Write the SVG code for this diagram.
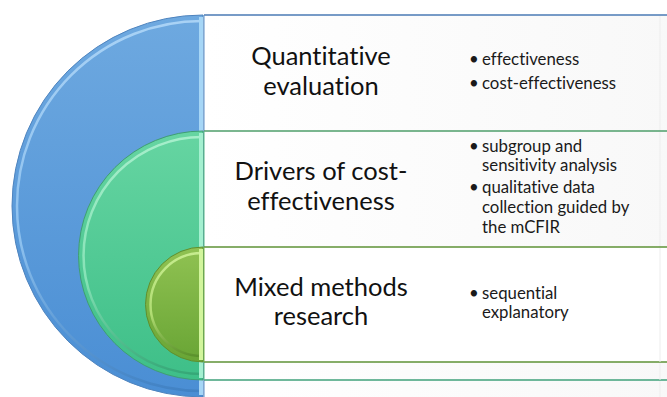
<svg xmlns="http://www.w3.org/2000/svg" width="667" height="397" viewBox="0 0 667 397">
<defs>
<linearGradient id="gBlue" x1="0" y1="0" x2="0" y2="1"><stop offset="0" stop-color="#6EA9E0"/><stop offset="1" stop-color="#4A8ED4"/></linearGradient>
<linearGradient id="gGreen" x1="0" y1="0" x2="0" y2="1"><stop offset="0" stop-color="#66D5A2"/><stop offset="1" stop-color="#3EBF88"/></linearGradient>
<linearGradient id="gLime" x1="0" y1="0" x2="0" y2="1"><stop offset="0" stop-color="#90C252"/><stop offset="1" stop-color="#69A535"/></linearGradient>
<linearGradient id="gRect" x1="0" y1="0" x2="1" y2="0"><stop offset="0" stop-color="#FFFFFF"/><stop offset="1" stop-color="#F8F8F8"/></linearGradient>
<linearGradient id="hlBlue" x1="0" y1="0" x2="0" y2="1"><stop offset="0" stop-color="#A9D2F5"/><stop offset="0.6" stop-color="#8CC0EE"/><stop offset="1" stop-color="#4182C4"/></linearGradient>
<linearGradient id="hlGreen" x1="0" y1="0" x2="0" y2="1"><stop offset="0" stop-color="#A6EECB"/><stop offset="0.6" stop-color="#86E2B6"/><stop offset="1" stop-color="#36A878"/></linearGradient>
<linearGradient id="hlLime" x1="0" y1="0" x2="0" y2="1"><stop offset="0" stop-color="#C6EC8E"/><stop offset="0.6" stop-color="#B0DC72"/><stop offset="1" stop-color="#5B922C"/></linearGradient>
</defs>
<style>
.title{font-family:Lato,"Liberation Sans",sans-serif;font-size:25.5px;fill:#111;text-anchor:middle;font-variant-ligatures:none;font-feature-settings:"liga" 0,"dlig" 0}
.bul{font-family:Lato,"Liberation Sans",sans-serif;font-size:16.8px;fill:#1a1a1a;font-variant-ligatures:none;font-feature-settings:"liga" 0,"dlig" 0}
.rect{fill:url(#gRect)}
.hl{fill:none;stroke-width:2.5}
</style>

<g id="node-quantitative">
<path d="M203,15 A191,191 0 0 0 203,397 Z" fill="url(#gBlue)" stroke="#4F84BE" stroke-width="1"/>
<path d="M202,21 A185,185 0 0 0 202,391" class="hl" stroke="url(#hlBlue)"/>
<rect x="199" y="17" width="4" height="378" fill="#A6D6F6"/>
<rect x="204" y="15" width="470" height="390" class="rect"/>
<line x1="204" y1="15" x2="667" y2="15" stroke="#4A7AB5" stroke-width="1.5"/>
<line x1="204" y1="15" x2="204" y2="397" stroke="#5C8FC6" stroke-width="1"/>
<line x1="660" y1="16" x2="660" y2="397" stroke="#EDEDED" stroke-width="1"/>
<text class="title" x="321" y="65">Quantitative</text>
<text class="title" x="321" y="95">evaluation</text>
<text class="bul" x="469" y="65">•</text><text class="bul" x="482" y="65">effectiveness</text>
<text class="bul" x="469" y="89">•</text><text class="bul" x="482" y="89">cost-effectiveness</text>
</g>

<g id="node-drivers">
<path d="M203,131 A124.5,124.5 0 0 0 203,380 Z" fill="url(#gGreen)" stroke="#3F9E72" stroke-width="1"/>
<path d="M202,137 A118.5,118.5 0 0 0 202,374" class="hl" stroke="url(#hlGreen)"/>
<rect x="199" y="133" width="4" height="245" fill="#A4F0D0"/>
<rect x="204" y="131" width="470" height="249" class="rect"/>
<line x1="204" y1="131" x2="667" y2="131" stroke="#4E9E6A" stroke-width="1.5"/>
<line x1="204" y1="380" x2="667" y2="380" stroke="#3FA07A" stroke-width="1.5"/>
<line x1="204" y1="131" x2="204" y2="380" stroke="#55B585" stroke-width="1"/>
<line x1="660" y1="132" x2="660" y2="380" stroke="#EDEDED" stroke-width="1"/>
<text class="title" x="321" y="180">Drivers of cost-</text>
<text class="title" x="321" y="210">effectiveness</text>
<text class="bul" x="469" y="152">•</text><text class="bul" x="482" y="152">subgroup and</text>
<text class="bul" x="482" y="171">sensitivity analysis</text>
<text class="bul" x="469" y="193">•</text><text class="bul" x="482" y="193">qualitative data</text>
<text class="bul" x="482" y="213">collection guided by</text>
<text class="bul" x="482" y="233">the mCFIR</text>
</g>

<g id="node-mixed">
<path d="M203,247 A57.5,57.5 0 0 0 203,362 Z" fill="url(#gLime)" stroke="#5F8F2E" stroke-width="1"/>
<path d="M202,253 A51.5,51.5 0 0 0 202,356" class="hl" stroke="url(#hlLime)"/>
<rect x="199" y="249" width="4" height="111" fill="#D2F59C"/>
<rect x="204" y="247" width="470" height="115" fill="#FFFFFF"/>
<line x1="204" y1="247" x2="667" y2="247" stroke="#5E9236" stroke-width="1.5"/>
<line x1="204" y1="362" x2="667" y2="362" stroke="#5E9236" stroke-width="1.5"/>
<line x1="204" y1="247" x2="204" y2="362" stroke="#7DB046" stroke-width="1"/>
<line x1="660" y1="248" x2="660" y2="362" stroke="#EDEDED" stroke-width="1"/>
<text class="title" x="321" y="296">Mixed methods</text>
<text class="title" x="321" y="325">research</text>
<text class="bul" x="469" y="299">•</text><text class="bul" x="482" y="299">sequential</text>
<text class="bul" x="482" y="318">explanatory</text>
</g>

<g id="connectors"></g>
</svg>
